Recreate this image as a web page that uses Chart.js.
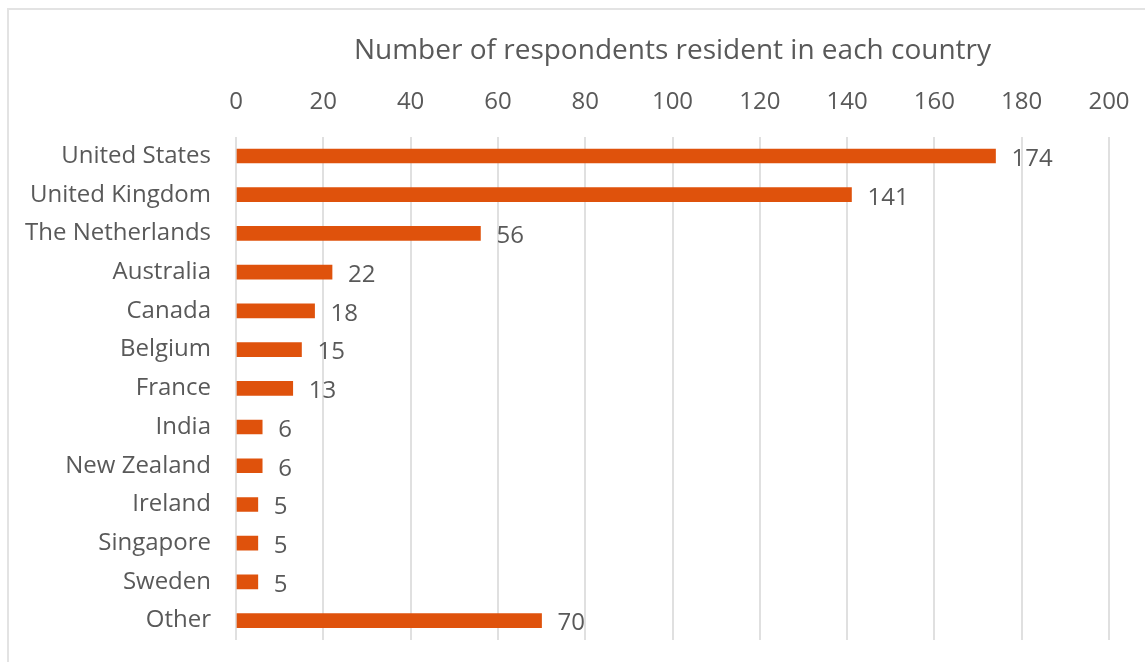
<!DOCTYPE html>
<html>
<head>
<meta charset="utf-8">
<script src="https://cdn.jsdelivr.net/npm/chart.js@4.4.1/dist/chart.umd.min.js"></script>
<style>
    html, body { margin: 0; padding: 0; background: #fff; overflow: hidden; }
    #wrap { position: relative; width: 1145px; height: 662px; }
    #frame { position: absolute; left: 7px; top: 8px; width: 1200px; height: 700px; border: 2px solid #e3e3e3; box-sizing: border-box; }
    #chart { position: absolute; left: 0; top: 0; }
</style>
</head>
<body>
<div id="wrap">
    <div id="frame"></div>
    <canvas id="chart" width="1145" height="662"></canvas>
</div>
<script>
// Respondents per country of residence
const countries = ['United States', 'United Kingdom', 'The Netherlands', 'Australia', 'Canada', 'Belgium', 'France', 'India', 'New Zealand', 'Ireland', 'Singapore', 'Sweden', 'Other'];
const respondents = [174, 141, 56, 22, 18, 15, 13, 6, 6, 5, 5, 5, 70];
const xTicks = [0, 20, 40, 60, 80, 100, 120, 140, 160, 180, 200];

const textColor = '#595959';
const barColor = '#DF520C';
const fontFamily = '"Open Sans", "Noto Sans", sans-serif';

// Value labels drawn just right of each bar
const valueLabels = {
    id: 'valueLabels',
    afterDatasetsDraw(chart) {
        const ctx = chart.ctx;
        const meta = chart.getDatasetMeta(0);
        ctx.save();
        ctx.font = '24px ' + fontFamily;
        ctx.fillStyle = textColor;
        ctx.textAlign = 'left';
        ctx.textBaseline = 'middle';
        meta.data.forEach((bar, i) => {
            ctx.fillText(String(respondents[i]), bar.x + 16, bar.y + 3);
        });
        ctx.restore();
    }
};

document.addEventListener('DOMContentLoaded', function() {
    const ctx = document.getElementById('chart').getContext('2d');
    new Chart(ctx, {
        type: 'bar',
        data: {
            labels: countries,
            datasets: [{
                data: respondents,
                backgroundColor: barColor,
                borderWidth: 0,
                barThickness: 14
            }]
        },
        options: {
            indexAxis: 'y',
            responsive: false,
            animation: false,
            layout: { padding: { left: 0, right: 36, top: 0, bottom: 22 } },
            plugins: {
                legend: { display: false },
                tooltip: { enabled: false },
                title: {
                    display: true,
                    fullSize: false,
                    text: 'Number of respondents resident in each country',
                    color: textColor,
                    font: { family: fontFamily, size: 28, weight: 'normal' },
                    padding: { top: 34, bottom: 4 }
                }
            },
            scales: {
                x: {
                    position: 'top',
                    min: 0,
                    max: 200,
                    afterBuildTicks: scale => { scale.ticks = xTicks.map(v => ({ value: v })); },
                    afterFit: scale => {
                        scale.height = 65;
                        scale.paddingLeft = 0;
                        scale.paddingRight = 0;
                    },
                    grid: { color: '#e0e0e0', lineWidth: 2, drawTicks: false },
                    border: { display: false },
                    ticks: {
                        color: textColor,
                        padding: 20,
                        font: { family: fontFamily, size: 24 }
                    }
                },
                y: {
                    afterFit: scale => {
                        scale.width = 236;
                        scale.paddingTop = 0;
                        scale.paddingBottom = 0;
                    },
                    grid: { display: false },
                    border: { display: false },
                    ticks: {
                        color: textColor,
                        padding: 17,
                        font: { family: fontFamily, size: 24 }
                    }
                }
            }
        },
        plugins: [valueLabels]
    });
});
</script>
</body>
</html>
